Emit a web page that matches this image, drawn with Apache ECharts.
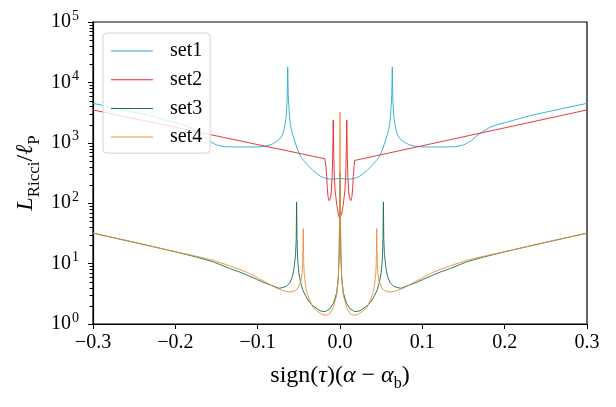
<!DOCTYPE html>
<html>
<head>
<meta charset="utf-8">
<script src="https://cdn.jsdelivr.net/npm/echarts@6/dist/echarts.min.js"></script>
<style>
  html, body { margin: 0; padding: 0; background: #fff; }
  #chart { width: 616px; height: 407px; }
</style>
</head>
<body>
<div id="chart"></div>
<script>
// ======================
// DATA (right half, x >= 0; curves are mirrored about x = 0)
// ======================

const set1X = [0, 0.006, 0.012, 0.016, 0.020, 0.024, 0.028, 0.033, 0.038, 0.043, 0.048, 0.052, 0.055, 0.058, 0.060, 0.0615, 0.0628, 0.0635, 0.0642, 0.0655, 0.067, 0.069, 0.072, 0.077, 0.083, 0.09, 0.10, 0.12, 0.14, 0.15, 0.158, 0.166, 0.174, 0.182, 0.191, 0.20, 0.21, 0.23, 0.26, 0.30];
const set1Y = [258, 252, 250, 255, 265, 280, 310, 350, 410, 490, 590, 800, 1070, 1450, 1900, 2900, 6000, 18000, 5000, 2600, 1900, 1450, 1200, 1050, 940, 880, 855, 850, 860, 920, 1050, 1300, 1550, 1800, 2000, 2150, 2350, 2800, 3450, 4500];

const set2X = [0, 0.001, 0.002, 0.003, 0.004, 0.005, 0.006, 0.0068, 0.0075, 0.0082, 0.0089, 0.0096, 0.0105, 0.0115, 0.0131, 0.0145, 0.0155, 0.016, 0.017, 0.0178, 0.0185, 0.30];
const set2Y = [56, 58, 66, 80, 95, 125, 165, 260, 600, 2400, 600, 260, 160, 122, 110, 128, 185, 260, 400, 510, 545, 3500];

const set3X = [0, 0.0005, 0.001, 0.002, 0.004, 0.008, 0.012, 0.018, 0.024, 0.028, 0.033, 0.037, 0.041, 0.045, 0.048, 0.050, 0.0515, 0.0522, 0.0527, 0.0532, 0.054, 0.056, 0.058, 0.061, 0.065, 0.0735, 0.08, 0.09, 0.10, 0.11, 0.12, 0.134, 0.154, 0.175, 0.20, 0.25, 0.30];
const set3Y = [320, 40, 15, 6, 3.3, 2.2, 1.8, 1.6, 1.65, 1.8, 2.0, 2.3, 2.8, 3.6, 5, 7, 12, 25, 105, 25, 14, 8, 6, 4.8, 4.2, 3.9, 4.2, 4.7, 5.4, 6.2, 7.1, 8.3, 10.7, 12.9, 15.7, 22.5, 32];

const set4X = [0, 0.0005, 0.001, 0.002, 0.004, 0.008, 0.012, 0.016, 0.020, 0.024, 0.028, 0.033, 0.037, 0.040, 0.042, 0.0435, 0.044, 0.0446, 0.0452, 0.046, 0.0475, 0.049, 0.051, 0.054, 0.057, 0.061, 0.066, 0.0735, 0.08, 0.09, 0.10, 0.11, 0.12, 0.134, 0.154, 0.175, 0.20, 0.25, 0.30];
const set4Y = [3200, 60, 18, 6, 3.0, 1.9, 1.5, 1.4, 1.42, 1.5, 1.65, 1.9, 2.5, 3.3, 4.5, 7, 10, 38, 10, 7, 5, 4.6, 3.9, 3.6, 3.45, 3.39, 3.47, 3.75, 4.1, 4.9, 5.8, 6.85, 7.85, 9.2, 11.35, 13.3, 15.7, 22.5, 32];

const seriesNames = ['set1', 'set2', 'set3', 'set4'];
const seriesColors = ['#29acd6', '#e3262b', '#176c4c', '#ea8f3c'];

// minor ticks of the log axis: 2..9 x 10^e
const yMinorTicks = [];
for (let e = 0; e < 5; e++) {
    for (let m = 2; m <= 9; m++) yMinorTicks.push(m * Math.pow(10, e));
}

// ======================
// HELPERS
// ======================

function mirror(xs, ys) {
    const pts = [];
    for (let i = xs.length - 1; i >= 1; i--) pts.push([-xs[i], ys[i]]);
    for (let i = 0; i < xs.length; i++) pts.push([xs[i], ys[i]]);
    return pts;
}

const FONT = 'Liberation Serif';

function makeSeries(name, color, pts) {
    return {
        name: name,
        type: 'line',
        data: pts,
        symbol: 'none',
        showSymbol: false,
        lineStyle: { color: color, width: 0.9 },
        itemStyle: { color: color },
        emphasis: { disabled: true },
        animation: false,
        clip: true
    };
}

// short outward tick on the left spine, placed through the axis scales
function renderMinorTick(params, api) {
    const p = api.coord([api.value(0), api.value(1)]);
    const y = Math.round(p[1]) + 0.5;
    return {
        type: 'line',
        silent: true,
        shape: { x1: p[0] - 3.5, y1: y, x2: p[0], y2: y },
        style: { stroke: '#000', lineWidth: 1 }
    };
}

// ======================
// CHART
// ======================

const chart = echarts.init(document.getElementById('chart'), null, { renderer: 'canvas' });

const option = {
    backgroundColor: '#fff',
    animation: false,
    grid: {
        left: 93, right: 29, top: 22, bottom: 83,
        show: true,
        borderColor: '#000',
        borderWidth: 1.2,
        backgroundColor: 'transparent'
    },
    legend: {
        orient: 'vertical',
        left: 103,
        top: 33,
        padding: [8, 8, 6, 8],
        backgroundColor: 'rgba(255,255,255,0.8)',
        borderColor: '#d4d4d4',
        borderWidth: 1,
        borderRadius: 4,
        icon: 'rect',
        itemWidth: 42,
        itemHeight: 1,
        itemGap: 8.7,
        data: seriesNames,
        textStyle: {
            fontFamily: FONT,
            fontSize: 20,
            lineHeight: 20,
            color: '#000',
            padding: [0, 0, 0, 12]
        }
    },
    xAxis: {
        type: 'value',
        min: -0.3,
        max: 0.3,
        interval: 0.1,
        splitLine: { show: false },
        axisLine: { show: true, onZero: false, lineStyle: { color: '#000', width: 1.2 } },
        axisTick: { show: true, inside: false, length: 5, lineStyle: { color: '#000', width: 1 } },
        axisLabel: {
            margin: 9,
            fontFamily: FONT,
            fontSize: 20,
            color: '#000',
            formatter: function (v) {
                const s = Math.abs(v).toFixed(1);
                return v < -1e-9 ? '\u2212' + s : s;
            }
        },
        name: '{n|sign(}{it|τ}{n|)(}{it|α}{n| − }{it|α}{sub|b}{n|)}',
        nameLocation: 'middle',
        nameMoveOverlap: false,
        nameGap: 44,
        nameTextStyle: {
            rich: {
                n: { fontFamily: FONT, fontSize: 24, lineHeight: 24, color: '#000', padding: [0, 0, 4, 0], verticalAlign: 'bottom' },
                it: { fontFamily: FONT, fontSize: 24, lineHeight: 24, fontStyle: 'italic', color: '#000', padding: [0, 0, 4, 0], verticalAlign: 'bottom' },
                sub: { fontFamily: FONT, fontSize: 16, lineHeight: 16, color: '#000', verticalAlign: 'bottom' }
            }
        }
    },
    yAxis: {
        type: 'log',
        logBase: 10,
        min: 1,
        max: 100000,
        interval: 1,
        position: 'left',
        splitLine: { show: false },
        axisLine: { show: true, onZero: false, lineStyle: { color: '#000', width: 1.2 } },
        axisTick: { show: true, inside: false, length: 5, lineStyle: { color: '#000', width: 1 } },
        axisLabel: {
            margin: 14,
            formatter: function (v) {
                return '{b|10}{sup|' + Math.round(Math.log10(v)) + '}';
            },
            rich: {
                b: { fontFamily: FONT, fontSize: 20, lineHeight: 20, color: '#000', verticalAlign: 'bottom' },
                sup: { fontFamily: FONT, fontSize: 14, lineHeight: 14, color: '#000', padding: [0, 0, 9, 1], verticalAlign: 'bottom' }
            }
        },
        name: '{it|L}{sub|Ricci}{n|/}{it|ℓ}{sub|P}',
        nameLocation: 'middle',
        nameRotate: 90,
        nameMoveOverlap: false,
        nameGap: 50,
        nameTextStyle: {
            rich: {
                n: { fontFamily: FONT, fontSize: 24, lineHeight: 24, color: '#000', padding: [0, 0, 5, 0], verticalAlign: 'bottom' },
                it: { fontFamily: FONT, fontSize: 24, lineHeight: 24, fontStyle: 'italic', color: '#000', padding: [0, 0, 5, 0], verticalAlign: 'bottom' },
                sub: { fontFamily: FONT, fontSize: 17, lineHeight: 17, color: '#000', verticalAlign: 'bottom' }
            }
        }
    },
    series: [
        makeSeries(seriesNames[0], seriesColors[0], mirror(set1X, set1Y)),
        makeSeries(seriesNames[1], seriesColors[1], mirror(set2X, set2Y)),
        makeSeries(seriesNames[2], seriesColors[2], mirror(set3X, set3Y)),
        makeSeries(seriesNames[3], seriesColors[3], mirror(set4X, set4Y)),
        {
            name: 'minorTicks',
            type: 'custom',
            data: yMinorTicks.map(v => [-0.3, v]),
            renderItem: renderMinorTick,
            clip: false,
            silent: true,
            z: 10,
            animation: false
        }
    ]
};

chart.setOption(option);
</script>
</body>
</html>
